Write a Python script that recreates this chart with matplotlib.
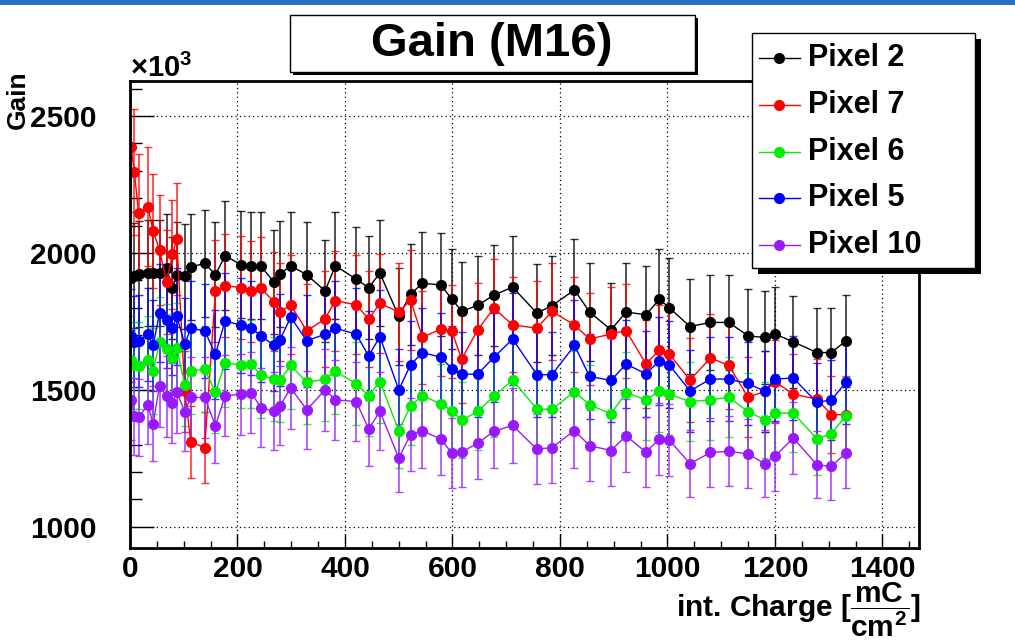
import matplotlib
matplotlib.use("Agg")
import matplotlib.pyplot as plt
from matplotlib.lines import Line2D
from matplotlib.patches import Rectangle
from matplotlib.ticker import MultipleLocator

W, H = 1015, 643

# ───────────────────────── data (gain in units of 10^3) ───────────────────────── #

charge = [2, 8, 16, 33, 43, 55, 68, 79, 87, 102, 113, 139, 159, 177, 207, 226,
          243, 268, 279, 299, 329, 363, 382, 421, 444, 465, 500, 522, 544, 578,
          599, 617, 647, 677, 712, 757, 785, 827, 855, 895, 923, 960, 985, 1003,
          1042, 1080, 1114, 1150, 1181, 1200, 1234, 1278, 1305, 1332]

gain_px2 = [1908, 1916, 1923, 1926, 1926, 1926, 1946, 1871, 1920, 1914, 1948, 1962,
            1920, 1990, 1956, 1953, 1953, 1893, 1923, 1953, 1920, 1861, 1953, 1904,
            1873, 1926, 1768, 1849, 1889, 1883, 1831, 1787, 1808, 1846, 1875, 1780,
            1807, 1865, 1784, 1719, 1784, 1774, 1831, 1800, 1731, 1746, 1746, 1697,
            1691, 1704, 1675, 1636, 1636, 1679]
gain_px7 = [2388, 2295, 2147, 2169, 2080, 2011, 1893, 1995, 2050, 1494, 1309, 1289,
            1861, 1880, 1873, 1859, 1871, 1822, 1784, 1810, 1715, 1759, 1826, 1810,
            1758, 1816, 1784, 1828, 1692, 1721, 1713, 1612, 1719, 1798, 1737, 1725,
            1786, 1737, 1685, 1704, 1716, 1594, 1646, 1631, 1536, 1616, 1589, 1473,
            1494, 1530, 1484, 1466, 1409, 1409]
gain_px6 = [1609, 1590, 1588, 1609, 1569, 1673, 1648, 1616, 1651, 1518, 1569, 1575,
            1491, 1597, 1591, 1594, 1553, 1539, 1534, 1589, 1527, 1539, 1567, 1522,
            1478, 1530, 1351, 1441, 1478, 1449, 1423, 1388, 1421, 1476, 1536, 1429,
            1429, 1493, 1445, 1412, 1490, 1463, 1496, 1484, 1457, 1463, 1473, 1420,
            1390, 1415, 1415, 1321, 1339, 1406]
gain_px5 = [1697, 1676, 1679, 1703, 1662, 1780, 1755, 1725, 1768, 1667, 1725, 1715,
            1630, 1752, 1735, 1725, 1698, 1662, 1682, 1765, 1679, 1703, 1725, 1703,
            1624, 1694, 1500, 1591, 1636, 1619, 1577, 1557, 1557, 1619, 1685, 1555,
            1555, 1662, 1549, 1534, 1594, 1558, 1606, 1591, 1496, 1539, 1539, 1523,
            1494, 1539, 1543, 1454, 1463, 1527]
gain_px10 = [1464, 1403, 1399, 1445, 1376, 1515, 1476, 1451, 1492, 1419, 1472, 1472,
             1369, 1478, 1484, 1490, 1435, 1421, 1441, 1506, 1427, 1500, 1463, 1457,
             1357, 1421, 1251, 1336, 1350, 1320, 1269, 1272, 1305, 1348, 1370, 1283,
             1289, 1351, 1296, 1278, 1332, 1272, 1321, 1317, 1230, 1271, 1275, 1266,
             1230, 1257, 1324, 1226, 1220, 1269]

# error bars: about +-10 % of each gain value
rel_err = 0.10

labels = ["Pixel 2", "Pixel 7", "Pixel 6", "Pixel 5", "Pixel 10"]
series = [gain_px2, gain_px7, gain_px6, gain_px5, gain_px10]
colors = ["#000000", "#ff0000", "#00ee00", "#0000ff", "#9a1aff"]


def fx(px):
    return px / W


def fy(py):
    return 1 - py / H


# ───────────────────────── figure ───────────────────────── #

plt.rcParams["font.family"] = ["Liberation Sans", "DejaVu Sans"]
plt.rcParams["font.weight"] = "bold"
plt.rcParams["mathtext.fontset"] = "custom"
plt.rcParams["mathtext.rm"] = "Liberation Sans:bold"
plt.rcParams["mathtext.bf"] = "Liberation Sans:bold"
plt.rcParams["mathtext.it"] = "Liberation Sans:bold"

fig = plt.figure(figsize=(W / 100, H / 100), dpi=100)
fig.patch.set_facecolor("white")

# blue strip on top
fig.add_artist(Rectangle((0, fy(5)), 1, 5 / H, transform=fig.transFigure,
                         facecolor="#2b70c4", edgecolor="none"))

ax = fig.add_axes([fx(130), fy(548), (919 - 130) / W, (548 - 80.7) / H])

for vals, col in zip(series, colors):
    errs = [v * rel_err for v in vals]
    line, caps, bars = ax.errorbar(charge, vals, yerr=errs, fmt="-o", color=col,
                                   ms=7, lw=1, elinewidth=1.2, capsize=3,
                                   capthick=1)
    for b in bars:
        b.set_alpha(0.8)
    for c in caps:
        c.set_alpha(0.8)

ax.set_xlim(0, 1468)
ax.set_ylim(922, 2629)
ax.xaxis.set_major_locator(MultipleLocator(200))
ax.xaxis.set_minor_locator(MultipleLocator(50))
ax.yaxis.set_major_locator(MultipleLocator(500))
ax.yaxis.set_minor_locator(MultipleLocator(100))
ax.grid(True, which="major", color="black", linestyle=(0, (1, 2.5)), lw=0.9)
ax.tick_params(axis="x", which="major", direction="in", length=10, width=1,
               labelsize=21.5, pad=5)
ax.tick_params(axis="x", which="minor", direction="in", length=5, width=1)
ax.tick_params(axis="y", which="major", direction="in", length=17, width=1,
               labelsize=21.5, pad=24)
ax.tick_params(axis="y", which="minor", direction="in", length=8.5, width=1)
for lab in ax.get_xticklabels() + ax.get_yticklabels():
    lab.set_fontweight("bold")
for s in ax.spines.values():
    s.set_linewidth(2)

# axis titles
fig.text(fx(130), fy(77), "×10$^{3}$", ha="left", va="baseline", fontsize=21)
fig.text(fx(18), fy(70), "Gain", rotation=90, ha="center", va="top",
         fontsize=19)
fig.text(fx(921), fy(617), r"int. Charge [$\dfrac{mC}{cm^{2}}$]",
         ha="right", va="baseline", fontsize=21.5)

# title box
fig.add_artist(Rectangle((fx(293), fy(75)), (695 - 290) / W, (72 - 15) / H,
                         transform=fig.transFigure, facecolor="black",
                         edgecolor="none"))
fig.add_artist(Rectangle((fx(290), fy(72)), (695 - 290) / W, (72 - 15) / H,
                         transform=fig.transFigure, facecolor="white",
                         edgecolor="black", lw=1))
fig.text(fx(492), fy(44), "Gain (M16)", ha="center", va="center", fontsize=34)

# legend box
fig.add_artist(Rectangle((fx(758), fy(274)), (975 - 752) / W, (268 - 33) / H,
                         transform=fig.transFigure, facecolor="black",
                         edgecolor="none"))
fig.add_artist(Rectangle((fx(752), fy(268)), (975 - 752) / W, (268 - 33) / H,
                         transform=fig.transFigure, facecolor="white",
                         edgecolor="black", lw=1))
row_y = [58, 105, 152, 198, 245]
for lab, col, ry in zip(labels, colors, row_y):
    fig.add_artist(Line2D([fx(759), fx(800)], [fy(ry), fy(ry)],
                          transform=fig.transFigure, color=col, lw=1))
    fig.add_artist(Line2D([fx(779)], [fy(ry)], transform=fig.transFigure,
                          color=col, marker="o", ms=7))
    fig.text(fx(808), fy(ry), lab, ha="left", va="center", fontsize=22)

fig.savefig("out.png", dpi=100)
